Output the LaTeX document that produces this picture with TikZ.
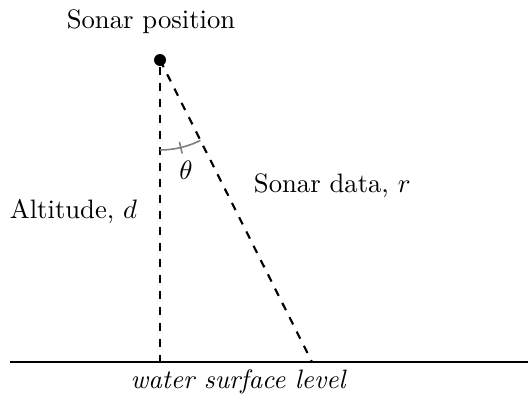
\documentclass[tikz,border=0pt]{standalone}
\usetikzlibrary{calc}

\begin{document}
\begin{tikzpicture}[x=0.375pt, y=0.375pt, thick]

\useasboundingbox (0,0) rectangle (528,408);

% 声呐位置
\node[circle, fill=black, inner sep=0pt, minimum size=4.5pt] (S) at (160,348) {};
\node (Slabel) at (151,386) {Sonar position};

% 水面与两端点
\coordinate (L) at (10,46);
\coordinate (R) at (528,46);
\coordinate (B) at (160,46);
\coordinate (E) at (312,46);
\draw[line width=1.1pt] (L) -- (R);
\node[font=\itshape] (W) at (238,26) {water surface level};

% 高度 d 与测距 r（虚线）
\draw[dashed] (S) -- (B);
\draw[dashed] (S.center) -- (E);
\node[anchor=east] (D) at (147,196) {Altitude, $d$};
\node[anchor=west] (Rlabel) at (244,222) {Sonar data, $r$};

% 角 theta
\draw[gray, semithick] ($(S.center)+(0,-90)$) arc[start angle=270, end angle=296.7, radius=90];
\draw[gray, semithick] ($(S.center)+(283.35:84)$) -- ($(S.center)+(283.35:96)$);
\node (T) at (186,238) {$\theta$};

\end{tikzpicture}
\end{document}
